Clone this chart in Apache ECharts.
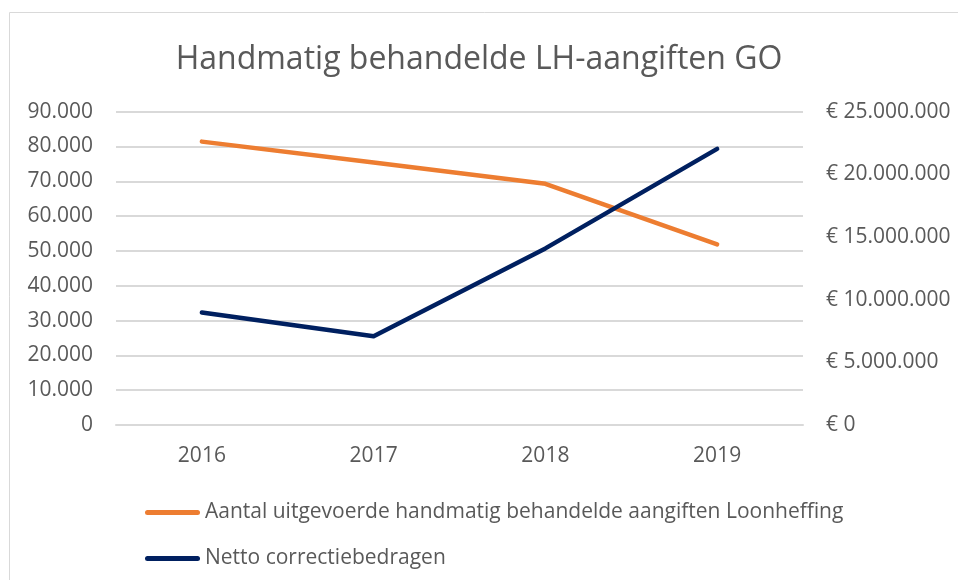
<!DOCTYPE html>
<html>
<head>
<meta charset="utf-8">
<script src="https://cdn.jsdelivr.net/npm/echarts@6/dist/echarts.min.js"></script>
<style>
  html, body { margin: 0; padding: 0; background: #fff; }
  #main { width: 958px; height: 580px; }
</style>
</head>
<body>
<div id="main"></div>
<script>
var years = ["2016", "2017", "2018", "2019"];
var aantal = [81400, 75400, 69300, 51900];
var netto = [8970000, 7090000, 14090000, 22030000];
var leftTicks = [0, 90000, 10000];
var rightTicks = [0, 25000000, 5000000];

function dots(v) {
  return String(v).replace(/\B(?=(\d{3})+(?!\d))/g, ".");
}

var chartDom = document.getElementById("main");
var myChart = echarts.init(chartDom);
var fontFam = "'Open Sans', sans-serif";
var txt = "#595959";
var option = {
  animation: false,
  textStyle: { fontFamily: fontFam },
  graphic: [
    {
      type: "rect",
      shape: { x: 9.5, y: 12.5, width: 1000, height: 600 },
      style: { fill: null, stroke: "#d9d9d9", lineWidth: 1 },
      silent: true
    }
  ],
  title: {
    text: "Handmatig behandelde LH-aangiften GO",
    left: "center",
    top: 39,
    textStyle: { color: txt, fontSize: 32, fontWeight: "normal", fontFamily: fontFam }
  },
  legend: {
    orient: "vertical",
    left: 140,
    top: 497,
    itemWidth: 55,
    itemHeight: 5,
    itemGap: 25,
    icon: "path://M0 2.5a2.5 2.5 0 0 1 2.5 -2.5h50a2.5 2.5 0 0 1 2.5 2.5v0a2.5 2.5 0 0 1 -2.5 2.5h-50a2.5 2.5 0 0 1 -2.5 -2.5z",
    textStyle: { color: txt, fontSize: 21, padding: [0, 0, 0, 0] },
    data: [
      "Aantal uitgevoerde handmatig behandelde aangiften Loonheffing",
      "Netto correctiebedragen"
    ]
  },
  grid: { left: 116, right: 155, top: 111.7, bottom: 155 },
  xAxis: {
    type: "category",
    data: years,
    axisLine: { show: true, lineStyle: { color: "#d9d9d9", width: 2 } },
    axisTick: { show: false },
    axisLabel: { color: txt, fontSize: 21, margin: 21 }
  },
  yAxis: [
    {
      type: "value",
      min: leftTicks[0],
      max: leftTicks[1],
      interval: leftTicks[2],
      axisLine: { show: false },
      axisTick: { show: false },
      splitLine: { lineStyle: { color: "#d9d9d9", width: 2 } },
      axisLabel: { color: txt, fontSize: 21, margin: 23, formatter: function (v) { return dots(v); } }
    },
    {
      type: "value",
      min: rightTicks[0],
      max: rightTicks[1],
      interval: rightTicks[2],
      axisLine: { show: false },
      axisTick: { show: false },
      splitLine: { show: false },
      axisLabel: { color: txt, fontSize: 21, margin: 23, formatter: function (v) { return "€ " + dots(v); } }
    }
  ],
  series: [
    {
      name: "Aantal uitgevoerde handmatig behandelde aangiften Loonheffing",
      type: "line",
      yAxisIndex: 0,
      data: aantal,
      showSymbol: false,
      color: "#ed7d31",
      lineStyle: { width: 4.5, color: "#ed7d31", cap: "round", join: "round" }
    },
    {
      name: "Netto correctiebedragen",
      type: "line",
      yAxisIndex: 1,
      data: netto,
      showSymbol: false,
      color: "#002060",
      lineStyle: { width: 4.5, color: "#002060", cap: "round", join: "round" }
    }
  ]
};
option && myChart.setOption(option);
</script>
</body>
</html>
